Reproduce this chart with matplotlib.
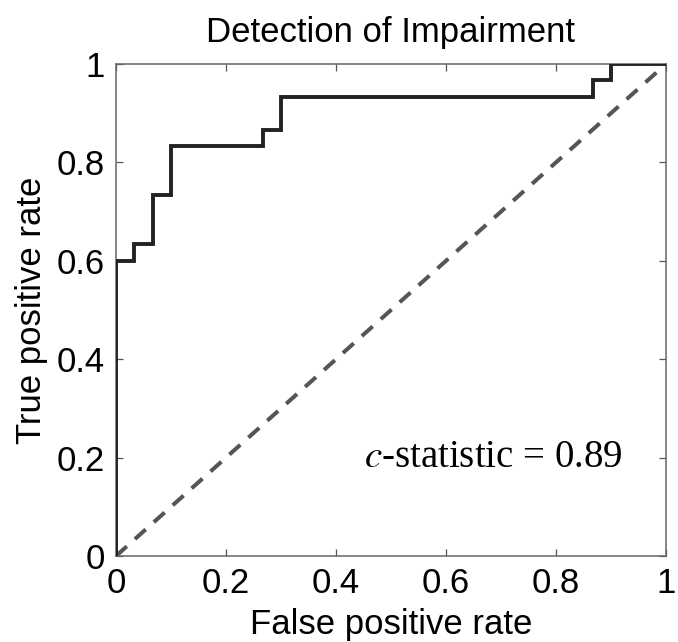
import matplotlib
matplotlib.use("Agg")
import matplotlib.pyplot as plt

fpr = [0.0, 0.0, 0.0333, 0.0333, 0.0667, 0.0667, 0.1, 0.1, 0.2667, 0.2667, 0.3, 0.3, 0.8667, 0.8667, 0.9, 0.9, 1.0]
tpr = [0.0, 0.6, 0.6, 0.6333, 0.6333, 0.7333, 0.7333, 0.8333, 0.8333, 0.8667, 0.8667, 0.9333, 0.9333, 0.9667, 0.9667, 1.0, 1.0]
chance = [0.0, 1.0]
ticks = [0, 0.2, 0.4, 0.6, 0.8, 1]
tick_labels = ["0", "0.2", "0.4", "0.6", "0.8", "1"]

plt.rcParams['font.family'] = ['Liberation Sans', 'DejaVu Sans']

fig = plt.figure(figsize=(6.78, 6.42), dpi=100)
ax = fig.add_axes([116/678, 1 - 556/642, 550/678, 492/642])

ax.plot(chance, chance, linestyle=(0, (3.6, 2.7)), color='#555555', lw=2.9, zorder=2)
ax.plot(fpr, tpr, color='#222222', lw=2.8, solid_joinstyle='miter', zorder=3)

ax.set_xlim(0, 1)
ax.set_ylim(0, 1)
ax.set_xticks(ticks)
ax.set_xticklabels(tick_labels)
ax.set_yticks(ticks)
ax.set_yticklabels(tick_labels)
ax.tick_params(direction='in', top=True, right=True, length=5, width=0.9,
               color='#555555', labelsize=25, pad=8)
for s in ax.spines.values():
    s.set_color('#666666')
    s.set_linewidth(1.1)

ax.set_title("Detection of Impairment", fontsize=25, pad=16)
ax.set_xlabel("False positive rate", fontsize=25, labelpad=6)
ax.set_ylabel("True positive rate", fontsize=25, labelpad=6)

ax.text(0.922, 0.2, r"$\mathit{c}$-statistic = 0.89", fontsize=28,
        family=['Liberation Serif'], ha='right', va='center',
        transform=ax.transAxes, math_fontfamily='stix')

fig.savefig("out.png", dpi=100)
